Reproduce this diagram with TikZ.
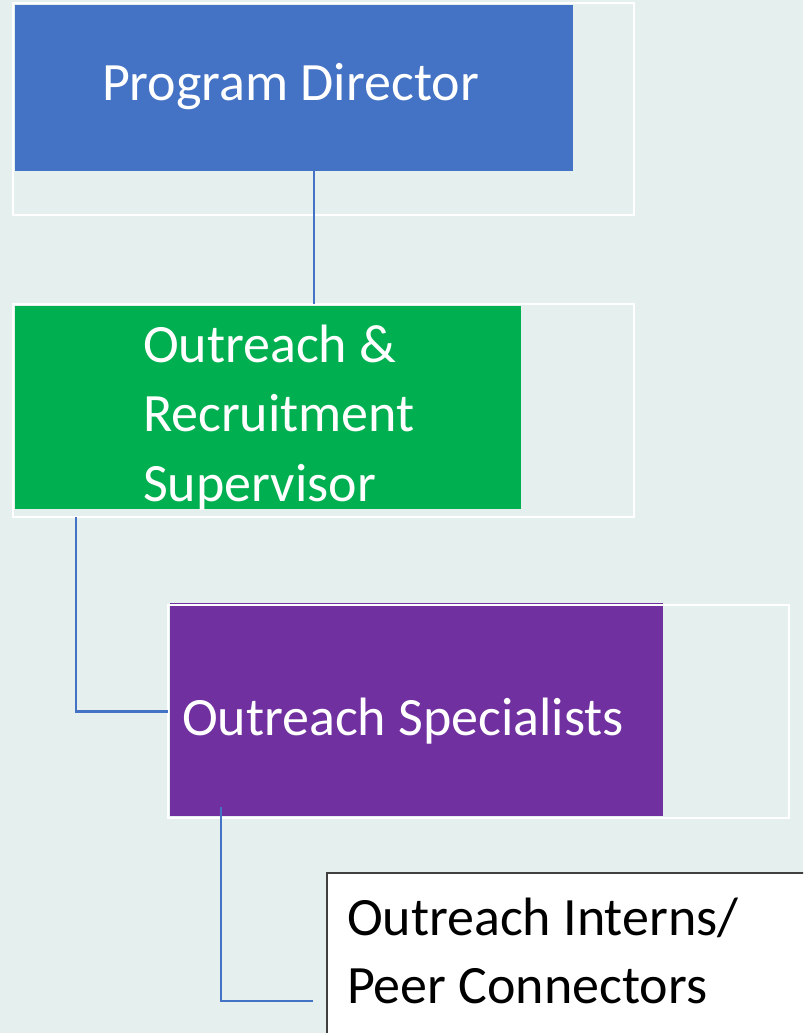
\documentclass[tikz,border=0pt]{standalone}
\usepackage{fontspec}
\setmainfont{Carlito}
\definecolor{bg}{RGB}{229,239,237}
\definecolor{pdblue}{RGB}{68,114,196}
\definecolor{orgreen}{RGB}{0,176,80}
\definecolor{ospurple}{RGB}{112,48,160}
\definecolor{connblue}{RGB}{68,114,196}
\definecolor{edgegray}{RGB}{64,64,64}
\tikzset{
  fillbox/.style={rectangle, inner sep=0pt, outer sep=0pt, anchor=north west},
  outline/.style={rectangle, draw=white, line width=2.5pt, inner sep=0pt, outer sep=0pt, anchor=north west},
  lbl/.style={inner sep=0pt, outer sep=0pt, anchor=base west, align=left,
              font=\fontsize{54}{69.5}\selectfont},
  conn/.style={draw=connblue, line width=2.5pt},
}
\begin{document}
\begin{tikzpicture}[x=1pt,y=-1pt]
\useasboundingbox (0,0) rectangle (803,1033);
\clip (0,0) rectangle (803,1033);
\fill[bg] (0,0) rectangle (803,1033);

% fills
\node[fillbox, fill=pdblue, minimum width=558pt, minimum height=166pt] (pd) at (15,5) {};
\node[fillbox, fill=orgreen, minimum width=506pt, minimum height=203pt] (or) at (15,306) {};
\node[fillbox, fill=ospurple, minimum width=493pt, minimum height=213pt] (os) at (170,603) {};
\node[fillbox, fill=white, draw=edgegray, line width=1.5pt, minimum width=500pt, minimum height=200pt] (oi) at (327,873) {};

% outlines
\node[outline, minimum width=621pt, minimum height=212pt] (pdo) at (13,3) {};
\node[outline, minimum width=621pt, minimum height=213pt] (oro) at (13,304) {};
\node[outline, minimum width=621pt, minimum height=213pt] (oso) at (168,605) {};

% labels (base anchor = last line)
\node[lbl, text=white] (pdt) at (102,100) {Program Director};
\node[lbl, text=white] (ort) at (143,501) {Outreach \&\\Recruitment\\Supervisor};
\node[lbl, text=white] (ost) at (182,735) {Outreach Specialists};
\node[lbl, text=black, font=\fontsize{54}{68}\selectfont] (oit) at (347,1003) {Outreach Interns/\\Peer Connectors};

% connectors
\coordinate (c1) at (314,0);
\coordinate (c2) at (76,0);
\coordinate (c3) at (221,807);
\coordinate (c4) at (313,1001);
\draw[conn] (pd.south -| c1) -- (oro.north -| c1);
\draw[conn] (oro.south -| c2) |- (oso.west);
\draw[conn] (c3) |- (c4);
\end{tikzpicture}
\end{document}
